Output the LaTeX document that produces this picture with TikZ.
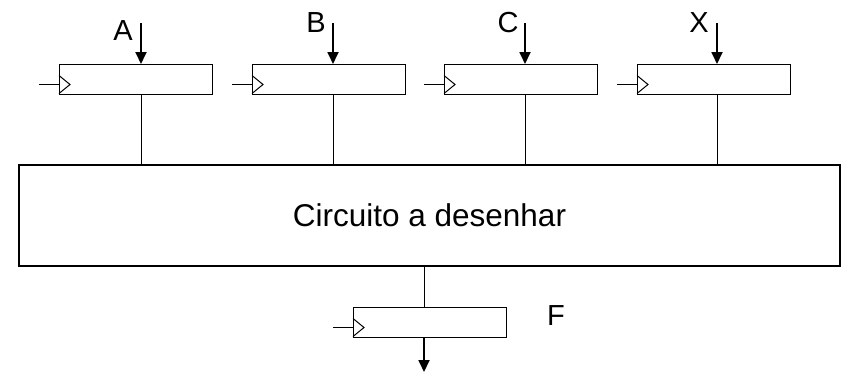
\documentclass[tikz,border=0pt]{standalone}
\usepackage{fontspec}
\setmainfont{Liberation Sans}
\usetikzlibrary{arrows.meta,calc}
\begin{document}
\begin{tikzpicture}[x=1pt,y=-1pt,
  reg/.style={draw,line width=1pt,minimum width=153pt,minimum height=30pt,inner sep=0pt,anchor=north west},
  wire/.style={line width=1pt},
  sig/.style={line width=1.8pt,-{Triangle[length=12pt,width=11pt]}},
  lbl/.style={inner sep=0pt,font=\fontsize{29}{34}\selectfont},
  big/.style={draw,line width=1.2pt,minimum width=821pt,minimum height=101pt,inner sep=0pt}]
\useasboundingbox (0,0) rectangle (843,373);
% registers
\node[reg] (rA) at (59,64) {};
\node[reg] (rB) at (252,64) {};
\node[reg] (rC) at (444,64) {};
\node[reg] (rX) at (637,64) {};
\node[reg] (rF) at (353,307) {};
% main block
\node[big,font=\fontsize{31.5}{38}\selectfont] (main) at (429.5,215.5) {Circuito a desenhar};
% labels
\node[lbl] (lA) at (123,31) {A};
\node[lbl] (lB) at (316,23) {B};
\node[lbl] (lC) at (508,23) {C};
\node[lbl] (lX) at (699,23) {X};
\node[lbl] (lF) at (556,316) {F};
% clock inputs and triangles
\foreach \r in {rA,rB,rC,rX,rF}{
  \coordinate (\r clk) at ($(\r.west)+(-20,5)$);
  \draw[wire] (\r clk) -- ($(\r.west)+(0,5)$);
  \draw[wire,line join=miter] ($(\r.west)+(0,-4)$) -- ($(\r.west)+(11,5)$) -- ($(\r.west)+(0,14)$);
}
% data inputs
\foreach \r/\x in {rA/141,rB/333,rC/525,rX/717}{
  \coordinate (\r in) at (\x,23);
  \draw[sig] (\r in) -- (\r in |- \r.north);
  \draw[wire] (\r in |- \r.south) -- (\r in |- main.north);
}
% output
\coordinate (fx) at (424,307);
\draw[wire] (fx |- main.south) -- (fx |- rF.north);
\coordinate (fout) at (424,372);
\draw[sig] (fx |- rF.south) -- (fout);
\end{tikzpicture}
\end{document}
